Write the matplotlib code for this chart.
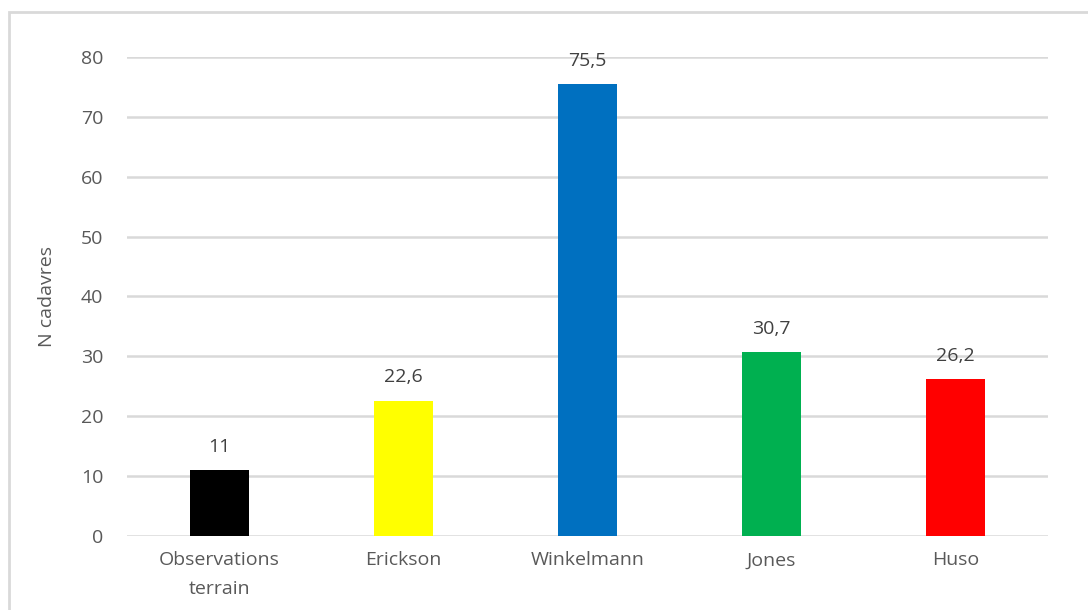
import matplotlib.pyplot as plt
from matplotlib.patches import Rectangle

# data
categories = ['Observations\nterrain', 'Erickson', 'Winkelmann', 'Jones', 'Huso']
values = [11, 22.6, 75.5, 30.7, 26.2]
labels = ['11', '22,6', '75,5', '30,7', '26,2']
colors = ['#000000', '#FFFF00', '#0070C0', '#00B050', '#FF0000']

plt.rcParams['font.family'] = ['Open Sans', 'DejaVu Sans']

fig = plt.figure(figsize=(10.88, 6.10), dpi=100)
ax = fig.add_axes([0.1167, 0.1213, 0.8465, 0.7853])

# light grey chart frame (runs off the right and bottom edges)
fig.patches.append(Rectangle((9 / 1088, -0.1), 1.2, 1 - 12 / 610 + 0.1,
                             transform=fig.transFigure, fill=False,
                             edgecolor='#D9D9D9', linewidth=2.0, zorder=0))

x = range(len(categories))
ax.bar(x, values, width=0.32, color=colors, zorder=3)

for i, v in enumerate(values):
    ax.text(i, v + 2.4, labels[i], ha='center', va='bottom',
            fontsize=14, color='#404040')

ax.set_xlim(-0.5, len(categories) - 0.5)
ax.set_ylim(0, 80)
ax.set_yticks(range(0, 81, 10))
ax.set_xticks(list(x))
ax.set_xticklabels(categories, fontsize=14, color='#595959', linespacing=1.75)
ax.tick_params(axis='y', labelsize=14, labelcolor='#595959', length=0, pad=17)
ax.tick_params(axis='x', length=0, pad=11)
ax.grid(axis='y', color='#D9D9D9', linewidth=1.8, zorder=0)
for s in ax.spines.values():
    s.set_visible(False)

ax.set_ylabel('N cadavres', fontsize=14, color='#595959', labelpad=18)

fig.savefig('out.png', dpi=100)
